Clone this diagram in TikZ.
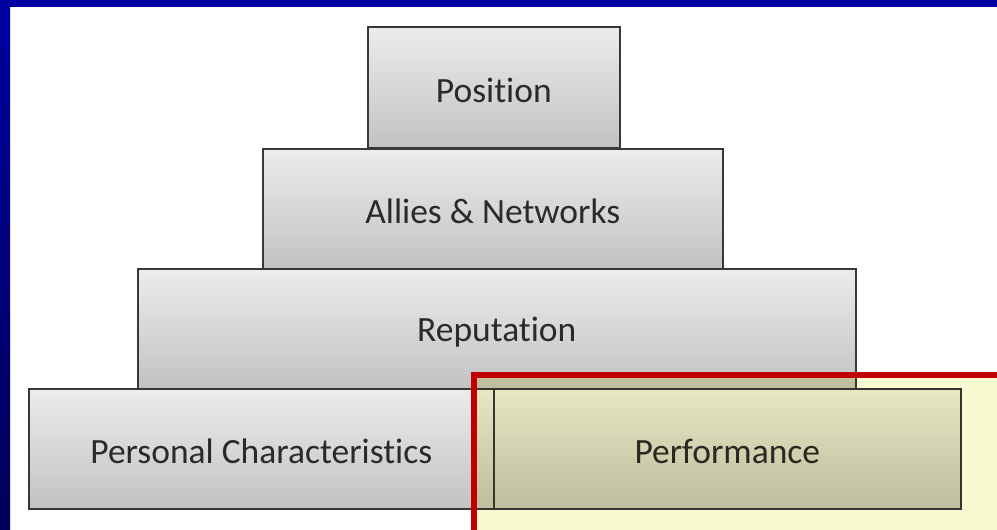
\documentclass[tikz,border=0pt]{standalone}
\usepackage{fontspec}
\setmainfont[Ligatures=NoCommon]{Carlito}
\definecolor{boxtop}{HTML}{ECECEC}
\definecolor{boxbot}{HTML}{C2C2C2}
\definecolor{boxline}{HTML}{383838}
\definecolor{txt}{HTML}{2A2A2A}
\definecolor{hiyellow}{HTML}{FAFAD2}
\definecolor{hired}{HTML}{C00000}
\definecolor{bluetop}{HTML}{0000A0}
\definecolor{bluebot}{HTML}{000058}
\tikzset{
  tier/.style={draw=boxline, line width=1.6pt, top color=boxtop, bottom color=boxbot,
    rectangle, inner sep=0pt, anchor=north west},
  tiertext/.style={text=txt, font=\fontsize{35.5}{40}\selectfont, inner sep=0pt}
}
\begin{document}
\begin{tikzpicture}[x=1pt,y=-1pt]
\useasboundingbox (0,0) rectangle (997,530);
\fill[white] (0,0) rectangle (997,530);
% blue frame strips
\shade[top color=bluetop, bottom color=bluebot] (0,0) rectangle (10,530);
\fill[bluetop] (0,0) rectangle (997,7);
% tiers
\node[tier, minimum width=252pt, minimum height=121pt] (pos) at (367,26) {};
\node[tier, minimum width=460pt, minimum height=120pt] (all) at (262,148) {};
\node[tier, minimum width=718pt, minimum height=120pt] (rep) at (137,268) {};
\node[tier, minimum width=465pt, minimum height=120pt] (per) at (28,388) {};
\node[tier, minimum width=467pt, minimum height=120pt] (perf) at (493,388) {};
% labels
\node[tiertext] (tpos) at ([yshift=-3pt]pos.center) {Position};
\node[tiertext] (tall) at ([yshift=-3pt]all.center) {Allies \& Networks};
\node[tiertext] (trep) at ([yshift=-3pt]rep.center) {Reputation};
\node[tiertext] (tper) at ([yshift=-3pt]per.center) {Personal Characteristics};
\node[tiertext] (tperf) at ([yshift=-3pt]perf.center) {Performance};
% highlight overlay
\begin{scope}[blend mode=multiply]
\fill[hiyellow] (474,374.5) rectangle (1000,533);
\end{scope}
\draw[hired, line width=6pt] (474,533) -- (474,374.5) -- (1000,374.5);
\end{tikzpicture}
\end{document}
